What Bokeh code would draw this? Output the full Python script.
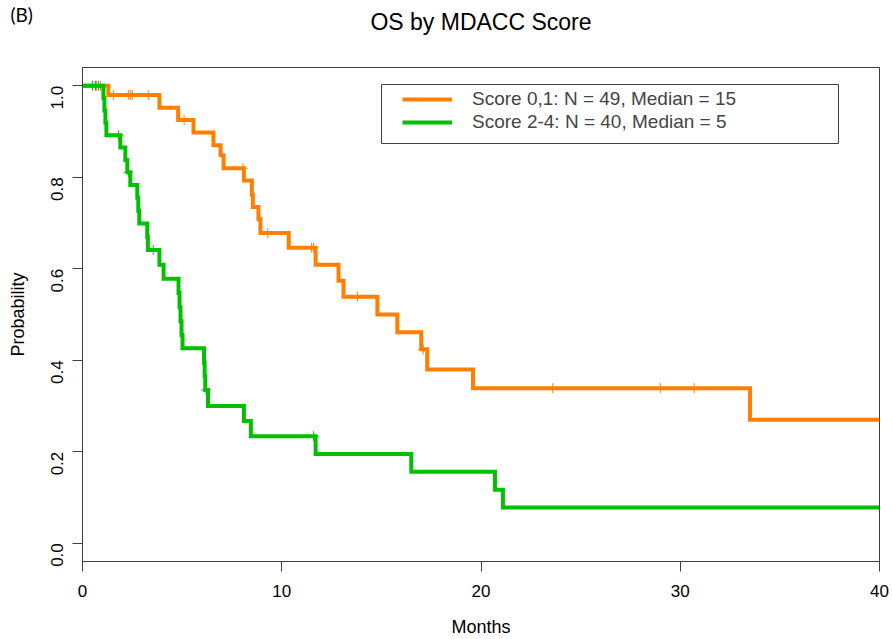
import math
import numpy as np
from bokeh.plotting import figure
from bokeh.models import (Range1d, FixedTicker, PrintfTickFormatter, Legend,
                          LegendItem, BoxAnnotation, Label)
from bokeh.embed import file_html
from bokeh.resources import INLINE

# ---------------- data ----------------
TITLE = "OS by MDACC Score"
PANEL = "(B)"
X_LABEL = "Months"
Y_LABEL = "Probability"
X_MAX = 40

x_ticks = [0, 10, 20, 30, 40]
y_ticks = [0.0, 0.2, 0.4, 0.6, 0.8, 1.0]

label_low = "Score 0,1: N = 49, Median = 15"
label_high = "Score 2-4: N = 40, Median = 5"

# Score 0,1 (orange) step curve
low_time = [0, 1.3, 3.86, 4.8, 5.57, 6.57, 6.93, 7.08, 8.1, 8.5, 8.55, 8.83, 8.93,
            10.35, 11.7, 12.85, 13.1, 14.8, 15.8, 17.0, 17.3, 19.6, 33.5]
low_surv = [1.0, 0.980, 0.952, 0.925, 0.898, 0.870, 0.848, 0.820, 0.793, 0.762, 0.735,
            0.708, 0.678, 0.646, 0.609, 0.574, 0.539, 0.500, 0.461, 0.424, 0.380, 0.339, 0.270]
low_censor = [0.7, 0.9, 1.55, 2.3, 2.4, 2.5, 3.3, 5.1, 8.05, 9.3, 11.5, 11.6, 13.8,
              17.1, 23.6, 29.0, 30.7]

# Score 2-4 (green) step curve
high_time = [0, 1.05, 1.1, 1.15, 1.2, 1.9, 2.15, 2.25, 2.4, 2.75, 2.8, 2.85, 3.25, 3.28,
             3.86, 4.07, 4.82, 4.87, 4.92, 4.97, 5.02, 6.1, 6.13, 6.16, 6.3, 8.1, 8.45,
             11.7, 16.5, 20.7, 21.1]
high_surv = [1.0, 0.973, 0.946, 0.919, 0.892, 0.865, 0.838, 0.811, 0.783, 0.755, 0.727,
             0.699, 0.670, 0.641, 0.609, 0.578, 0.547, 0.516, 0.485, 0.455, 0.426, 0.395,
             0.365, 0.335, 0.300, 0.267, 0.234, 0.195, 0.156, 0.117, 0.078]
high_censor = [0.5, 0.65, 0.8, 1.8, 2.3, 3.55, 6.2, 11.6]

ORANGE = "#FF8000"
GREEN = "#00C000"
FRAME = "#404040"
FONT = "Liberation Sans"


def extend(t, s):
    return list(t) + [X_MAX], list(s) + [s[-1]]


def at(times, t, s):
    idx = np.searchsorted(np.array(t), np.array(times), side="right") - 1
    return [s[i] for i in idx]


# ---------------- figure ----------------
p = figure(width=892, height=639, output_backend="svg", toolbar_location=None,
           title=None, x_range=Range1d(0, X_MAX), y_range=Range1d(-0.04, 1.04),
           min_border_left=82, min_border_right=13, min_border_top=67,
           min_border_bottom=76)
p.xgrid.visible = False
p.ygrid.visible = False
p.outline_line_color = FRAME
p.outline_line_width = 1
p.background_fill_color = "white"
p.border_fill_color = "white"

lx, ly = extend(low_time, low_surv)
hx, hy = extend(high_time, high_surv)

r_low = p.step(lx, ly, mode="after", line_color=ORANGE, line_width=4, line_join="miter")
p.scatter(low_censor, at(low_censor, low_time, low_surv), marker="cross", size=10,
          line_color=ORANGE, line_width=1)
r_high = p.step(hx, hy, mode="after", line_color=GREEN, line_width=4, line_join="miter")
p.scatter(high_censor, at(high_censor, high_time, high_surv), marker="cross", size=10,
          line_color=GREEN, line_width=1)

# axes
for ax in (p.xaxis[0], p.yaxis[0]):
    ax.axis_line_color = FRAME
    ax.major_tick_line_color = FRAME
    ax.minor_tick_line_color = None
    ax.major_tick_in = 0
    ax.major_tick_out = 10
    ax.major_label_text_font = FONT
    ax.major_label_text_font_size = "17px"
    ax.major_label_text_color = "black"
    ax.axis_label_text_font = FONT
    ax.axis_label_text_font_size = "18px"
    ax.axis_label_text_font_style = "normal"
    ax.axis_label_text_color = "black"

p.xaxis.ticker = FixedTicker(ticks=x_ticks)
p.xaxis.major_label_standoff = 13
p.xaxis.axis_label = X_LABEL
p.xaxis.axis_label_standoff = 17
p.yaxis.ticker = FixedTicker(ticks=y_ticks)
p.yaxis.formatter = PrintfTickFormatter(format="%.1f")
p.yaxis.major_label_orientation = math.pi / 2
p.yaxis.major_label_standoff = 15
p.yaxis.axis_label = Y_LABEL
p.yaxis.axis_label_standoff = 15

# main title in the top border (slot nearest the frame)
p.add_layout(Label(x=398.5, y=46, x_units="screen", y_units="screen", text=TITLE,
                   text_align="center", text_baseline="middle", text_font=FONT,
                   text_font_size="23px", text_color="black"), "above")

# panel tag "(B)" (outer slot)
p.add_layout(Label(x=-72, y=27, x_units="screen", y_units="screen", text=PANEL,
                   text_align="left", text_baseline="middle", text_font="Lato",
                   text_font_size="19px", text_color="black"), "above")

# legend box + legend
p.add_layout(BoxAnnotation(left=299, right=756, top=477, bottom=418,
                           left_units="screen", right_units="screen",
                           top_units="screen", bottom_units="screen",
                           fill_alpha=0, line_color=FRAME, line_width=1, line_alpha=1))
legend = Legend(items=[LegendItem(label=label_low, renderers=[r_low]),
                       LegendItem(label=label_high, renderers=[r_high])],
                location=(320, 428), orientation="vertical", glyph_width=50,
                glyph_height=20, label_height=20, spacing=1, padding=0, margin=0,
                label_standoff=20, border_line_alpha=0, background_fill_alpha=0,
                label_text_font=FONT, label_text_font_size="19px")
p.add_layout(legend)

open("out.html", "w").write(file_html(p, INLINE))
